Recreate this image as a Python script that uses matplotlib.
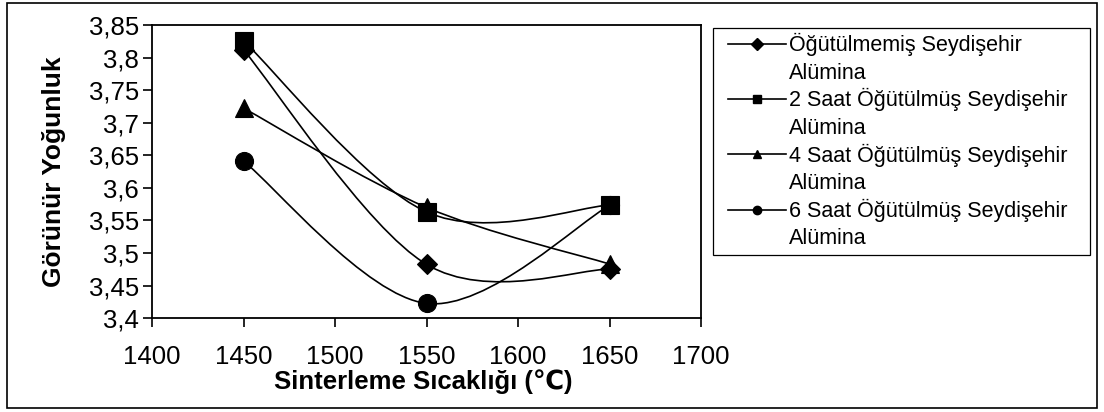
import numpy as np
import matplotlib
matplotlib.use("Agg")
import matplotlib.pyplot as plt
from matplotlib.path import Path
from matplotlib.patches import PathPatch, Rectangle
from matplotlib.lines import Line2D
from matplotlib.legend_handler import HandlerLine2D
from matplotlib.ticker import FuncFormatter, MultipleLocator

plt.rcParams['font.family'] = ['Liberation Sans', 'DejaVu Sans']

# sinterleme sicakligi (C)
temps = [1450, 1550, 1650]

# gorunur yogunluk degerleri
ogutulmemis = [3.812, 3.4825, 3.475]
saat2 = [3.826, 3.563, 3.5735]
saat4 = [3.7225, 3.570, 3.483]
saat6 = [3.641, 3.4225, 3.573]

labels = [
    'Öğütülmemiş Seydişehir\nAlümina',
    '2 Saat Öğütülmüş Seydişehir\nAlümina',
    '4 Saat Öğütülmüş Seydişehir\nAlümina',
    '6 Saat Öğütülmüş Seydişehir\nAlümina',
]
series = [ogutulmemis, saat2, saat4, saat6]
markers = ['D', 's', '^', 'o']
msizes = [10.5, 13, 13, 13]


def smooth_path(xs, ys):
    # Excel tarzi yumusatilmis cizgi (Bezier, 1/6 gerilim)
    pts = np.column_stack([xs, ys]).astype(float)
    n = len(pts)
    verts = [pts[0]]
    codes = [Path.MOVETO]
    for i in range(n - 1):
        p0 = pts[i - 1] if i > 0 else pts[i]
        p1 = pts[i]
        p2 = pts[i + 1]
        p3 = pts[i + 2] if i + 2 < n else pts[i + 1]
        c1 = p1 + (p2 - p0) / 6.0
        c2 = p2 - (p3 - p1) / 6.0
        verts += [c1, c2, p2]
        codes += [Path.CURVE4] * 3
    return Path(verts, codes)


class FirstLineHandler(HandlerLine2D):
    # lejant sembolunu iki satirlik etiketin ilk satirina hizala
    def create_artists(self, legend, orig_handle, xdescent, ydescent,
                       width, height, fontsize, trans):
        arts = super().create_artists(legend, orig_handle, xdescent, ydescent,
                                      width, height, fontsize, trans)
        for a in arts:
            a.set_ydata(np.asarray(a.get_ydata()) + 10.8)
        return arts


fig = plt.figure(figsize=(11.04, 4.12), dpi=100)
ax = fig.add_axes([0.1377, 0.228, 0.4973, 0.711])

for vals, m, ms in zip(series, markers, msizes):
    ax.add_patch(PathPatch(smooth_path(temps, vals), fill=False,
                           edgecolor='black', lw=1.2, zorder=2))
    ax.plot(temps, vals, linestyle='none', marker=m, ms=ms,
            color='black', mec='black', mew=0.8, zorder=3)

ax.set_xlim(1400, 1700)
ax.set_ylim(3.4, 3.85)
ax.xaxis.set_major_locator(MultipleLocator(50))
ax.yaxis.set_major_locator(MultipleLocator(0.05))
ax.yaxis.set_major_formatter(FuncFormatter(lambda v, p: f'{v:g}'.replace('.', ',')))

for s in ax.spines.values():
    s.set_linewidth(1.3)
ax.tick_params(axis='both', direction='out', length=6.5, width=1.2,
               labelsize=18.5)
ax.tick_params(axis='x', pad=13)
ax.tick_params(axis='y', pad=3)

ax.set_xlabel('Sinterleme Sıcaklığı (℃)', fontsize=18.5, fontweight='bold')
ax.set_ylabel('Görünür Yoğunluk', fontsize=19, fontweight='bold')
ax.xaxis.set_label_coords(0.4945, -0.175)
ax.yaxis.set_label_coords(-0.157, 0.5)

handles = [Line2D([], [], color='black', lw=1.2, marker=m, ms=6)
           for m in markers]
leg = fig.legend(handles, labels, loc='upper left',
                 bbox_to_anchor=(728 / 1104, 1 - 33 / 412),
                 fontsize=15.5, frameon=False, handlelength=2.7,
                 handletextpad=0.14, labelspacing=0.22, borderpad=0,
                 borderaxespad=0,
                 handler_map={Line2D: FirstLineHandler()})
for t in leg.get_texts():
    t.set_linespacing(1.4)

# lejant cercevesi
fig.patches.append(Rectangle((713 / 1104, 1 - 255 / 412), 377 / 1104, 227 / 412,
                             transform=fig.transFigure, fill=False,
                             edgecolor='black', lw=0.9))

# dis cerceve
fig.patches.append(Rectangle((0.0065, 0.0095), 0.987, 0.983,
                             transform=fig.transFigure, fill=False,
                             edgecolor='black', lw=1.2))

fig.savefig('out.png', dpi=100)
